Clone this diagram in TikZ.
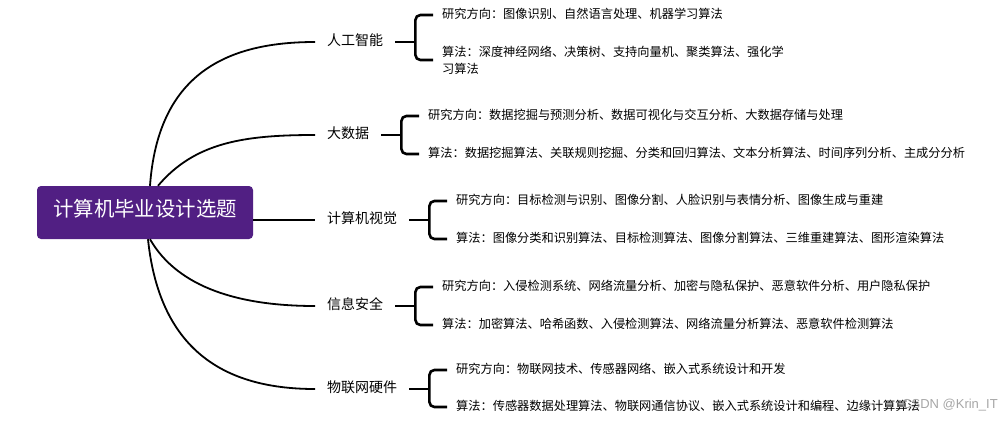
\documentclass[tikz,border=0pt]{standalone}
\usepackage{fontspec}
\setmainfont{Noto Sans CJK SC}
\newfontfamily\wmfont{Liberation Sans}
\usetikzlibrary{calc}
\definecolor{rootpurple}{RGB}{81,31,131}
\definecolor{wmgray}{RGB}{150,150,150}
\begin{document}
\begin{tikzpicture}[x=1pt,y=-1pt,
  rootnode/.style={fill=rootpurple, text=white, rounded corners=4pt, minimum width=216pt, minimum height=53pt, inner sep=0pt, font=\fontsize{20.4}{24}\selectfont, text height=0.88em, text depth=0.12em},
  topic/.style={anchor=west, inner xsep=12pt, inner ysep=0pt, font=\fontsize{14}{17}\selectfont, text height=0.88em, text depth=0.12em},
  leaf/.style={anchor=west, inner xsep=9pt, inner ysep=0pt, font=\fontsize{12.2}{16.7}\selectfont, text height=0.88em, text depth=0.12em},
  leafml/.style={anchor=west, inner xsep=9pt, inner ysep=0pt, font=\fontsize{12.2}{16.7}\selectfont, align=left},
  curve/.style={draw=black, line width=1.8pt},
  brace/.style={draw=black, line width=2.6pt, rounded corners=5pt},
]
\useasboundingbox (0,0) rectangle (1003,420);
\node[rootnode] (root) at (145,212.5) {计算机毕业设计选题};

% topics
\node[topic] (ai) at (315,42) {人工智能};
\node[topic] (bd) at (315,135) {大数据};
\node[topic] (cv) at (315,220) {计算机视觉};
\node[topic] (is) at (315,306) {信息安全};
\node[topic] (iot) at (315,389) {物联网硬件};

% leaves
\node[leaf] (ai1) at (433,15) {研究方向：图像识别、自然语言处理、机器学习算法};
\node[leafml] (ai2) at (433,60) {算法：深度神经网络、决策树、支持向量机、聚类算法、强化学\\习算法};
\node[leaf] (bd1) at (419,116) {研究方向：数据挖掘与预测分析、数据可视化与交互分析、大数据存储与处理};
\node[leaf] (bd2) at (419,154) {算法：数据挖掘算法、关联规则挖掘、分类和回归算法、文本分析算法、时间序列分析、主成分分析};
\node[leaf] (cv1) at (447,201) {研究方向：目标检测与识别、图像分割、人脸识别与表情分析、图像生成与重建};
\node[leaf] (cv2) at (447,239) {算法：图像分类和识别算法、目标检测算法、图像分割算法、三维重建算法、图形渲染算法};
\node[leaf] (is1) at (433,287) {研究方向：入侵检测系统、网络流量分析、加密与隐私保护、恶意软件分析、用户隐私保护};
\node[leaf] (is2) at (433,325) {算法：加密算法、哈希函数、入侵检测算法、网络流量分析算法、恶意软件检测算法};
\node[leaf] (iot1) at (447,370) {研究方向：物联网技术、传感器网络、嵌入式系统设计和开发};
\node[leaf] (iot2) at (447,407) {算法：传感器数据处理算法、物联网通信协议、嵌入式系统设计和编程、边缘计算算法};

% root connectors
\draw[curve] ([xshift=5pt]root.north) .. controls (158,75) and (225,42) .. (ai.west);
\draw[curve] ([xshift=13pt]root.north) .. controls (195,142) and (245,135) .. (bd.west);
\draw[curve] (root.east |- cv.west) -- (cv.west);
\draw[curve] ([xshift=5pt]root.south) .. controls (178,288) and (240,306) .. (is.west);
\draw[curve] ([xshift=3pt]root.south) .. controls (160,355) and (230,389) .. (iot.west);

% brackets
\foreach \t/\a/\b in {ai/ai1/ai2, bd/bd1/bd2, cv/cv1/cv2, is/is1/is2, iot/iot1/iot2}{
  \draw[brace] (\t.east) -- ++(20,0) coordinate (\t j);
  \draw[brace] (\a.west) -| (\t j) |- (\b.west);
}

% watermark
\node[anchor=west, inner sep=0pt, font=\wmfont\fontsize{13}{15}\selectfont, text=wmgray, text opacity=0.85] (wm) at (902,405) {CSDN @Krin\_IT};
\end{tikzpicture}
\end{document}
